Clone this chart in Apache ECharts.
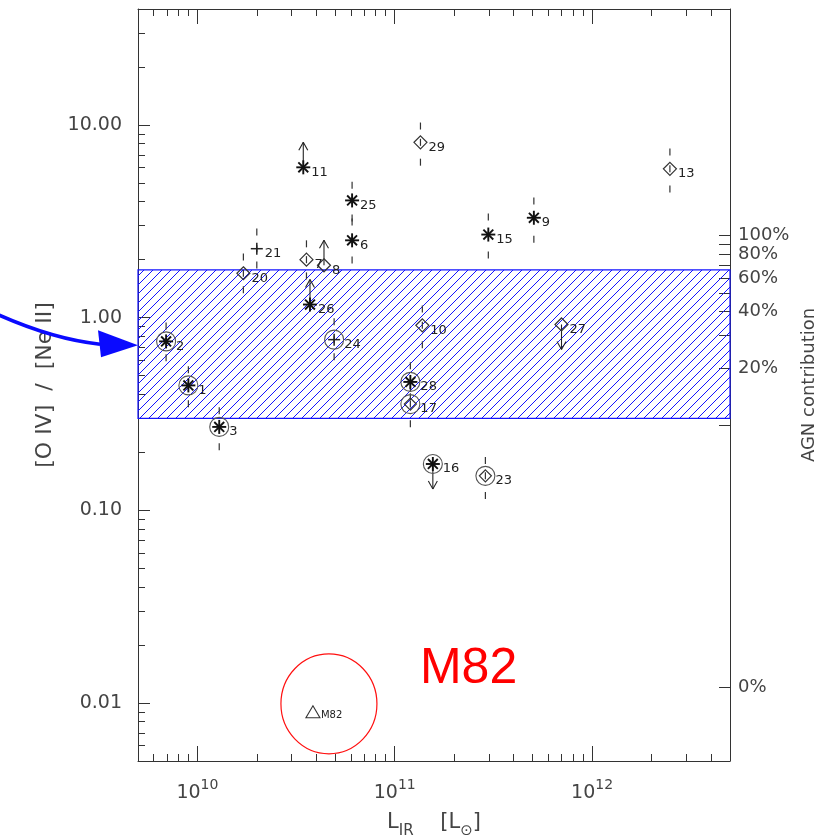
<!DOCTYPE html>
<html>
<head>
<meta charset="utf-8">
<script src="https://cdn.jsdelivr.net/npm/echarts@6/dist/echarts.min.js"></script>
<style>
  html, body { margin: 0; padding: 0; background: #fff; }
  #chart { width: 821px; height: 835px; }
</style>
</head>
<body>
<div id="chart"></div>
<script>
// Infrared luminosity versus [O IV]/[Ne II] line ratio for the galaxy sample
const galaxyIds   = ['11', '25', '6', '21', '20', '7', '8', '26', '2', '1', '3', '24', '10', '27', '28', '17', '16', '23', '29', '13', '9', '15', 'M82'];
const lirValues   = [3.44e10, 6.08e10, 6.08e10, 2.0e10, 1.71e10, 3.57e10, 4.38e10, 3.72e10, 6.94e9, 9.0e9, 1.29e10, 4.93e10, 1.38e11, 7.0e11, 1.2e11, 1.2e11, 1.56e11, 2.88e11, 1.35e11, 2.48e12, 5.07e11, 2.98e11, 3.85e10];
const ratioValues = [6.03, 4.06, 2.52, 2.28, 1.70, 2.0, 1.87, 1.17, 0.753, 0.445, 0.271, 0.769, 0.912, 0.922, 0.464, 0.356, 0.174, 0.151, 8.13, 5.92, 3.30, 2.70, 0.0090];
const ratioHigh   = [null, 5.08, 3.27, 2.90, 2.15, 2.52, null, null, 0.945, 0.559, 0.343, 0.992, 1.158, null, 0.587, 0.451, null, 0.189, 10.3, 7.54, 4.20, 3.47, null];
const ratioLow    = [null, 3.16, 1.91, 1.80, 1.34, 1.58, null, null, 0.594, 0.343, 0.205, 0.601, 0.693, null, 0.373, 0.270, null, 0.1146, 6.15, 4.46, 2.45, 2.03, null];
const limitFlags  = ['up', '', '', '', '', '', 'up', 'up', '', '', '', '', '', 'down', '', '', 'down', '', '', '', '', '', ''];
const markerKinds = ['star', 'star', 'star', 'plus', 'diamond', 'diamond', 'diamond', 'star', 'starRing', 'starRing', 'starRing', 'plusRing', 'diamond', 'diamond', 'starRing', 'diamondRing', 'starRing', 'diamondRing', 'diamond', 'diamond', 'star', 'star', 'triangle'];

// Ratio range spanned by the hatched band
const bandLimits = [0.30, 1.77];

// Axis ranges and tick labels
const xRange = [5e9, 5e12];
const yRange = [0.005, 40];
const xTickValues = [1e10, 1e11, 1e12];
const yTickValues = [0.01, 0.1, 1, 10];
const yTickLabels = ['0.01', '0.10', '1.00', '10.00'];

// AGN contribution scale: linear mix of a pure-starburst and a pure-AGN ratio
const starburstRatio = 0.012;
const agnRatio = 2.67;
const agnTickPercents = [0, 10, 20, 30, 40, 50, 60, 70, 80, 90, 100];
const agnLabelPercents = [0, 20, 40, 60, 80, 100];
const agnTickLabels = ['0%', '20%', '40%', '60%', '80%', '100%'];

const lg = Math.log10;
const xLo = lg(xRange[0]), xHi = lg(xRange[1]);
const yLo = lg(yRange[0]), yHi = lg(yRange[1]);

const ink = '#333';
const textInk = '#444';
const fontFam = '"DejaVu Sans", sans-serif';

function mixRatio(p) { return starburstRatio + p / 100 * (agnRatio - starburstRatio); }

function minorTicks(lo, hi) {
  const out = [];
  for (let e = Math.floor(lg(lo)); e <= Math.ceil(lg(hi)); e++) {
    for (let k = 2; k <= 9; k++) {
      const v = k * Math.pow(10, e);
      if (v >= lo * 0.99999 && v <= hi * 1.00001) out.push(lg(v));
    }
  }
  return out;
}

function nearestIndex(list, v) {
  let best = 0;
  list.forEach((t, k) => { if (Math.abs(t - v) < Math.abs(list[best] - v)) best = k; });
  return best;
}

// Hatch tile for the band
function hatchTile() {
  const s = 9;
  const c = document.createElement('canvas');
  c.width = s; c.height = s;
  const g = c.getContext('2d');
  g.strokeStyle = '#1414ff';
  g.lineWidth = 1;
  g.beginPath();
  g.moveTo(0, s); g.lineTo(s, 0);
  g.moveTo(-1, 1); g.lineTo(1, -1);
  g.moveTo(s - 1, s + 1); g.lineTo(s + 1, s - 1);
  g.stroke();
  return c;
}

const xMajor = xTickValues.map(lg);
const xMinor = minorTicks(xRange[0], xRange[1]);
const yMajor = yTickValues.map(lg);
const yMinor = minorTicks(yRange[0], yRange[1]);
const agnTicks = agnTickPercents.map(p => lg(mixRatio(p)));
const agnLabelPos = agnLabelPercents.map(p => lg(mixRatio(p)));

function overlayAxis(extra) {
  const base = {
    type: 'value', gridIndex: 0, silent: true,
    splitLine: { show: false },
    axisLine: { show: false, onZero: false, lineStyle: { color: ink, width: 1 } },
    axisTick: { show: true, inside: true, length: 7, lineStyle: { color: ink, width: 1 } },
    axisLabel: { show: false },
    axisPointer: { show: false }
  };
  return Object.assign(base, extra);
}

const line = (x1, y1, x2, y2, w, c) => ({ type: 'line', shape: { x1, y1, x2, y2 }, style: { stroke: c || '#111', lineWidth: w || 1.3 } });

function drawMarker(params, api) {
  const i = api.value(2);
  const p = api.coord([api.value(0), api.value(1)]);
  const x = p[0], y = p[1];
  const kind = markerKinds[i];
  const kids = [];
  if (kind.endsWith('Ring')) {
    kids.push({ type: 'circle', shape: { cx: x, cy: y, r: 9.5 }, style: { fill: 'none', stroke: '#555', lineWidth: 1.1 } });
  }
  if (kind.startsWith('star')) {
    const r = 7;
    [0, 45, 90, 135].forEach(a => {
      const t = a * Math.PI / 180;
      kids.push(line(x - r * Math.cos(t), y - r * Math.sin(t), x + r * Math.cos(t), y + r * Math.sin(t), 1.9, '#111'));
    });
  }
  if (kind.startsWith('plus')) {
    kids.push(line(x - 6, y, x + 6, y, 1.5, '#222'));
    kids.push(line(x, y - 6, x, y + 6, 1.5, '#222'));
  }
  if (kind.startsWith('diamond')) {
    const r = kind === 'diamond' ? 6.5 : 6;
    kids.push({ type: 'polygon', shape: { points: [[x, y - r], [x + r, y], [x, y + r], [x - r, y]] }, style: { fill: 'none', stroke: '#333', lineWidth: 1.2 } });
  }
  if (kind === 'triangle') {
    kids.push({ type: 'polygon', shape: { points: [[x, y - 6], [x + 7, y + 6], [x - 7, y + 6]] }, style: { fill: 'none', stroke: '#333', lineWidth: 1.1 } });
  }
  return { type: 'group', children: kids };
}

function drawErrorBar(params, api) {
  const xv = api.value(0);
  const top = api.coord([xv, api.value(2)]);
  const bot = api.coord([xv, api.value(1)]);
  const mid = api.coord([xv, api.value(3)]);
  const d = 7, c = '#333';
  return {
    type: 'group',
    children: [
      line(top[0], top[1], top[0], top[1] + d, 1.2, c),
      line(mid[0], mid[1] - d / 2, mid[0], mid[1] + d / 2, 1.2, c),
      line(bot[0], bot[1] - d, bot[0], bot[1], 1.2, c)
    ]
  };
}

function drawLimit(params, api) {
  const p = api.coord([api.value(0), api.value(1)]);
  const s = api.value(2);
  const tipY = p[1] + s * 25;
  const c = '#222';
  return {
    type: 'group',
    children: [
      line(p[0], p[1], p[0], tipY, 1.1, c),
      line(p[0], tipY, p[0] - 4.5, tipY - s * 8, 1.1, c),
      line(p[0], tipY, p[0] + 4.5, tipY - s * 8, 1.1, c)
    ]
  };
}

function drawLabel(params, api) {
  const i = api.value(2);
  const p = api.coord([api.value(0), api.value(1)]);
  const isSmall = markerKinds[i] === 'triangle';
  const dx = markerKinds[i].endsWith('Ring') ? 10 : 8;
  return {
    type: 'text',
    style: {
      text: galaxyIds[i], x: p[0] + dx, y: p[1] + (isSmall ? 4 : 5),
      font: (isSmall ? '10px ' : '13px ') + fontFam,
      fill: '#222', align: 'left', verticalAlign: 'middle'
    }
  };
}

const pointRows = galaxyIds.map((id, i) => [lirValues[i], ratioValues[i], i]);
const errorRows = [];
galaxyIds.forEach((id, i) => { if (ratioHigh[i] != null) errorRows.push([lirValues[i], ratioLow[i], ratioHigh[i], ratioValues[i]]); });
const limitRows = [];
galaxyIds.forEach((id, i) => { if (limitFlags[i]) limitRows.push([lirValues[i], ratioValues[i], limitFlags[i] === 'up' ? -1 : 1]); });

const chart = echarts.init(document.getElementById('chart'), null, { renderer: 'canvas' });

const option = {
  animation: false,
  backgroundColor: '#fff',
  grid: { left: 138, right: 91, top: 9, bottom: 74, containLabel: false, outerBoundsMode: 'none' },
  xAxis: [
    { type: 'log', logBase: 10, min: xRange[0], max: xRange[1], show: false, gridIndex: 0 },
    overlayAxis({
      position: 'bottom', min: xLo, max: xHi,
      axisLine: { show: true, onZero: false, lineStyle: { color: ink, width: 1 } },
      axisTick: { show: true, inside: true, length: 15, customValues: xMajor, lineStyle: { color: ink, width: 1 } },
      axisLabel: {
        show: true, margin: 17, customValues: xMajor,
        formatter: v => '{b|10}{s|' + Math.round(v) + '}',
        rich: {
          b: { fontSize: 19, fontFamily: fontFam, color: textInk, lineHeight: 30, verticalAlign: 'middle' },
          s: { fontSize: 14, fontFamily: fontFam, color: textInk, lineHeight: 14, verticalAlign: 'top' }
        }
      },
      name: '{b|L}{s|IR}{b|    [L}{s|⊙}{b|]}',
      nameLocation: 'middle', nameGap: 46,
      nameTextStyle: {
        rich: {
          b: { fontSize: 21, fontFamily: fontFam, color: textInk, lineHeight: 32, verticalAlign: 'middle' },
          s: { fontSize: 15, fontFamily: fontFam, color: textInk, lineHeight: 15, verticalAlign: 'bottom' }
        }
      }
    }),
    overlayAxis({ position: 'bottom', min: xLo, max: xHi, axisTick: { show: true, inside: true, length: 7, customValues: xMinor, lineStyle: { color: ink, width: 1 } } }),
    overlayAxis({
      position: 'top', min: xLo, max: xHi,
      axisLine: { show: true, onZero: false, lineStyle: { color: ink, width: 1 } },
      axisTick: { show: true, inside: true, length: 15, customValues: xMajor, lineStyle: { color: ink, width: 1 } }
    }),
    overlayAxis({ position: 'top', min: xLo, max: xHi, axisTick: { show: true, inside: true, length: 7, customValues: xMinor, lineStyle: { color: ink, width: 1 } } })
  ],
  yAxis: [
    { type: 'log', logBase: 10, min: yRange[0], max: yRange[1], show: false, gridIndex: 0 },
    overlayAxis({
      position: 'left', min: yLo, max: yHi,
      axisLine: { show: true, onZero: false, lineStyle: { color: ink, width: 1 } },
      axisTick: { show: true, inside: true, length: 12, customValues: yMajor, lineStyle: { color: ink, width: 1 } },
      axisLabel: {
        show: true, margin: 16, customValues: yMajor,
        formatter: v => yTickLabels[nearestIndex(yMajor, v)],
        fontSize: 19, fontFamily: fontFam, color: textInk, padding: [4, 0, 0, 0]
      },
      name: '[O IV]  /  [Ne II]', nameLocation: 'middle', nameGap: 80,
      nameTextStyle: { fontSize: 22, fontFamily: fontFam, color: textInk }
    }),
    overlayAxis({ position: 'left', min: yLo, max: yHi, axisTick: { show: true, inside: true, length: 7, customValues: yMinor, lineStyle: { color: ink, width: 1 } } }),
    overlayAxis({
      position: 'right', min: yLo, max: yHi,
      axisLine: { show: true, onZero: false, lineStyle: { color: ink, width: 1 } },
      axisTick: { show: true, inside: true, length: 11, customValues: agnTicks, lineStyle: { color: ink, width: 1 } },
      axisLabel: {
        show: true, margin: 8, customValues: agnLabelPos,
        formatter: v => agnTickLabels[nearestIndex(agnLabelPos, v)],
        fontSize: 18, fontFamily: fontFam, color: textInk
      },
      name: 'AGN contribution', nameLocation: 'middle', nameGap: 66,
      nameTextStyle: { fontSize: 18, fontFamily: fontFam, color: textInk }
    })
  ],
  series: [
    {
      name: 'band', type: 'line', xAxisIndex: 0, yAxisIndex: 0, data: [], z: 1, silent: true,
      markArea: {
        silent: true,
        label: { show: false },
        itemStyle: { color: { image: hatchTile(), repeat: 'repeat' }, borderColor: '#1414ff', borderWidth: 1.2, opacity: 1 },
        emphasis: { disabled: true },
        data: [[{ xAxis: xRange[0], yAxis: bandLimits[0] }, { xAxis: xRange[1], yAxis: bandLimits[1] }]]
      }
    },
    { name: 'errors', type: 'custom', xAxisIndex: 0, yAxisIndex: 0, z: 3, silent: true, renderItem: drawErrorBar, data: errorRows, encode: { x: 0, y: [1, 2] } },
    { name: 'limits', type: 'custom', xAxisIndex: 0, yAxisIndex: 0, z: 3, silent: true, renderItem: drawLimit, data: limitRows, encode: { x: 0, y: 1 } },
    { name: 'galaxies', type: 'custom', xAxisIndex: 0, yAxisIndex: 0, z: 4, silent: true, renderItem: drawMarker, data: pointRows, encode: { x: 0, y: 1 } },
    { name: 'ids', type: 'custom', xAxisIndex: 0, yAxisIndex: 0, z: 4, silent: true, renderItem: drawLabel, data: pointRows, encode: { x: 0, y: 1 } }
  ]
};

chart.setOption(option);

// Annotations: blue arrow pointing at the band, red ring and caption around M82
const arrowTarget = 0.72;
const tip = chart.convertToPixel({ xAxisIndex: 0, yAxisIndex: 0 }, [xRange[0], arrowTarget]);
const m82 = galaxyIds.indexOf('M82');
const mp = chart.convertToPixel({ xAxisIndex: 0, yAxisIndex: 0 }, [lirValues[m82], ratioValues[m82]]);
const blue = '#0a0aff';
chart.setOption({
  graphic: [
    { type: 'bezierCurve', silent: true, z: 20,
      shape: { x1: tip[0] - 141, y1: tip[1] - 31, cpx1: tip[0] - 85, cpy1: tip[1] - 6, x2: tip[0] - 38, y2: tip[1] - 1 },
      style: { stroke: blue, lineWidth: 3.5, fill: 'none' } },
    { type: 'polygon', silent: true, z: 20,
      shape: { points: [[tip[0], tip[1]], [tip[0] - 40, tip[1] - 15], [tip[0] - 37, tip[1] + 12]] },
      style: { fill: blue } },
    { type: 'ellipse', silent: true, z: 20,
      shape: { cx: mp[0] + 16, cy: mp[1] - 8, rx: 48, ry: 50 },
      style: { stroke: '#ff1010', fill: 'none', lineWidth: 1.2 } },
    { type: 'text', silent: true, z: 20,
      style: { text: 'M82', x: mp[0] + 107, y: mp[1] - 43, font: '50px "Liberation Sans", sans-serif', fill: '#ff0000', align: 'left', verticalAlign: 'middle' } }
  ]
});
</script>
</body>
</html>
